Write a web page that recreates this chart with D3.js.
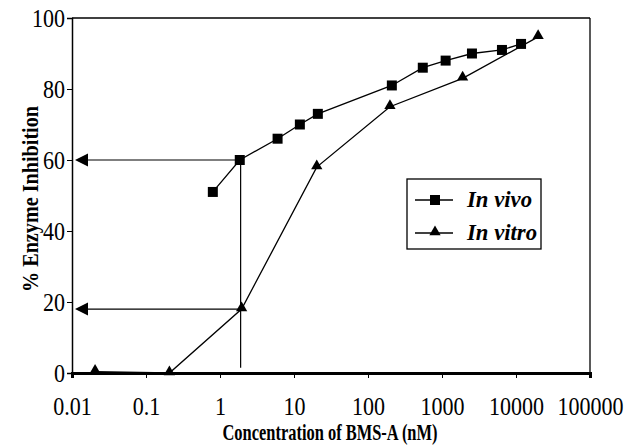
<!DOCTYPE html>
<html>
<head>
<meta charset="utf-8">
<script src="https://cdn.jsdelivr.net/npm/d3@7"></script>
<style>
  body { margin: 0; background: #fff; }
  svg text { font-family: "Liberation Serif", "Times New Roman", serif; fill: #000; }
</style>
</head>
<body>
<svg id="chart" width="643" height="445"></svg>
<script>
// data
const vivoDose = [0.8, 1.85, 6, 12, 21, 210, 550, 1120, 2540, 6460, 11700];
const vivoInhib = [51, 60, 66, 70, 73, 81, 86, 88, 90, 91, 92.7];
const vitroDose = [0.0205, 0.207, 1.96, 20.3, 198, 1900, 19900];
const vitroInhib = [0.4, 0, 18, 58, 75, 83, 94.7];
const xTicks = [0.01, 0.1, 1, 10, 100, 1000, 10000, 100000];
const yTicks = [0, 20, 40, 60, 80, 100];
const guideDose = 1.9;
const guideLevels = [60, 18];

const serif = "'Liberation Serif', 'Times New Roman', serif";
const margin = {top: 18, right: 53, bottom: 72, left: 72};
const width = 643 - margin.left - margin.right;
const height = 445 - margin.top - margin.bottom;

const svg = d3.select("#chart");
const g = svg.append("g")
    .attr("transform", "translate(" + margin.left + "," + margin.top + ")");

const x = d3.scaleLog().domain([0.01, 100000]).range([0, width]);
const y = d3.scaleLinear().domain([0, 100]).range([height, 0]);

// frame: top and right edges
g.append("line").attr("x1", 0).attr("x2", width).attr("y1", 0).attr("y2", 0)
    .attr("stroke", "#000").attr("stroke-width", 1.3);
g.append("line").attr("x1", width).attr("x2", width).attr("y1", 0).attr("y2", height)
    .attr("stroke", "#000").attr("stroke-width", 1.3);

// y axis
const yAxis = g.append("g")
    .call(d3.axisLeft(y).tickValues(yTicks).tickSize(5).tickPadding(3))
    .attr("font-family", serif);
yAxis.select(".domain").attr("stroke-width", 1.5);
yAxis.selectAll("text")
    .style("font-family", serif).style("font-size", "25px")
    .attr("dy", "0.35em")
    .attr("transform", "scale(0.88,1)");

// x axis
const xAxis = g.append("g")
    .attr("transform", "translate(0," + height + ")")
    .call(d3.axisBottom(x).tickValues(xTicks).tickSize(5).tickPadding(19))
    .attr("font-family", serif);
xAxis.select(".domain").attr("stroke-width", 3);
xAxis.selectAll("text")
    .style("font-family", serif).style("font-size", "25px")
    .attr("transform", "scale(0.88,1)")
    .text(function(d) { return d >= 1 ? d3.format("d")(d) : String(d); });

// axis titles
svg.append("text")
    .attr("x", 330).attr("y", 440)
    .attr("text-anchor", "middle")
    .attr("textLength", 215).attr("lengthAdjust", "spacingAndGlyphs")
    .style("font-family", serif)
    .style("font-size", "23px").style("font-weight", "bold")
    .text("Concentration of BMS-A (nM)");
svg.append("text")
    .attr("transform", "translate(38,199) rotate(-90)")
    .attr("text-anchor", "middle")
    .attr("textLength", 186).attr("lengthAdjust", "spacingAndGlyphs")
    .style("font-family", serif)
    .style("font-size", "23px").style("font-weight", "bold")
    .text("% Enzyme Inhibition");

// guide lines with arrows
g.append("line")
    .attr("x1", x(guideDose)).attr("x2", x(guideDose))
    .attr("y1", y(guideLevels[0])).attr("y2", y(1.5))
    .attr("stroke", "#000").attr("stroke-width", 1.2);
guideLevels.forEach(function(lv) {
  g.append("line")
      .attr("x1", x(guideDose)).attr("x2", 14)
      .attr("y1", y(lv)).attr("y2", y(lv))
      .attr("stroke", "#000").attr("stroke-width", 1.2);
  g.append("path")
      .attr("d", "M3," + y(lv) + "L16," + (y(lv) - 6.5) + "L16," + (y(lv) + 6.5) + "Z")
      .attr("fill", "#000");
});

const line = d3.line().x(d => x(d[0])).y(d => y(d[1]));
const vivo = vivoDose.map((d, i) => [d, vivoInhib[i]]);
const vitro = vitroDose.map((d, i) => [d, vitroInhib[i]]);

g.append("path").datum(vitro).attr("d", line)
    .attr("fill", "none").attr("stroke", "#000").attr("stroke-width", 1.3);
g.append("path").datum(vivo).attr("d", line)
    .attr("fill", "none").attr("stroke", "#000").attr("stroke-width", 1.3);

const square = d3.symbol().type(d3.symbolSquare).size(100);
const tri = d3.symbol().type(d3.symbolTriangle).size(55);

g.selectAll(".vivo").data(vivo).enter().append("path")
    .attr("class", "vivo")
    .attr("d", square)
    .attr("transform", d => "translate(" + x(d[0]) + "," + y(d[1]) + ")");
g.selectAll(".vitro").data(vitro).enter().append("path")
    .attr("class", "vitro")
    .attr("d", tri)
    .attr("transform", d => "translate(" + x(d[0]) + "," + (y(d[1]) - 1) + ")");

// legend
const legend = svg.append("g").attr("transform", "translate(407,179)");
legend.append("rect").attr("width", 134).attr("height", 70)
    .attr("fill", "#fff").attr("stroke", "#000").attr("stroke-width", 1.3);
const items = [{label: "In vivo", sym: square, len: 65}, {label: "In vitro", sym: tri, len: 70}];
items.forEach(function(it, i) {
  const cy = 21 + i * 33;
  legend.append("line").attr("x1", 8).attr("x2", 46).attr("y1", cy).attr("y2", cy)
      .attr("stroke", "#000").attr("stroke-width", 1.3);
  legend.append("path").attr("d", it.sym)
      .attr("transform", "translate(28," + (i === 0 ? cy : cy - 1) + ")");
  legend.append("text").attr("x", 60).attr("y", cy + 7)
      .attr("textLength", it.len).attr("lengthAdjust", "spacingAndGlyphs")
      .style("font-family", serif)
      .style("font-size", "23px").style("font-weight", "bold").style("font-style", "italic")
      .text(it.label);
});
</script>
</body>
</html>
